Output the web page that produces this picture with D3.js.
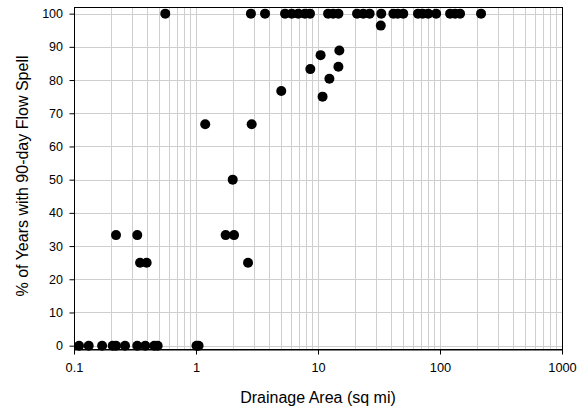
<!DOCTYPE html>
<html>
<head>
<meta charset="utf-8">
<script src="https://cdn.jsdelivr.net/npm/d3@7"></script>
<style>
  html, body { margin: 0; padding: 0; background: #fff; }
  svg { display: block; }
  text { font-family: "Liberation Sans", Arial, sans-serif; fill: #000; }
</style>
</head>
<body>
<svg id="chart" width="577" height="413"></svg>
<script>
// Drainage area (sq mi) of each gauge
const drainageArea = [
  0.110, 0.132, 0.170, 0.2075, 0.221, 0.262, 0.330, 0.384, 0.455, 0.485, 1.01, 1.05,
  0.221, 0.330, 1.75, 2.05,
  0.348, 0.394, 2.67,
  2.0,
  1.19, 2.86,
  5.0, 8.65, 10.5, 10.9, 12.4, 14.96, 14.7, 32.7,
  0.56, 2.82, 3.68, 5.37, 6.09, 6.90, 7.82, 8.60, 12.1, 13.3, 14.7,
  20.9, 23.5, 26.5, 33, 41.5, 45, 50, 66, 72, 80, 93, 121, 133, 146, 217
];
// Percent of years with a 90-day flow spell at the same gauge
const pctYears = [
  0, 0, 0, 0, 0, 0, 0, 0, 0, 0, 0, 0,
  33.3, 33.3, 33.3, 33.3,
  25, 25, 25,
  50,
  66.7, 66.7,
  76.7, 83.3, 87.5, 75, 80.4, 88.9, 84.0, 96.4,
  100, 100, 100, 100, 100, 100, 100, 100, 100, 100, 100,
  100, 100, 100, 100, 100, 100, 100, 100, 100, 100, 100, 100, 100, 100, 100
];
const xTickValues = [0.1, 1, 10, 100, 1000];
const xTickLabels = ["0.1", "1", "10", "100", "1000"];
const yTickValues = [0, 10, 20, 30, 40, 50, 60, 70, 80, 90, 100];

const svg = d3.select("#chart");
const plotL = 74, plotR = 562, plotT = 7, plotB = 349;

const x = d3.scaleLog().domain([0.1, 1000]).range([plotL, plotR]);
const y = d3.scaleLinear().domain([-1, 102]).range([plotB, plotT]);

// Minor log gridlines (1..9 in each decade)
const minor = [];
for (let e = -1; e < 3; e++) {
  for (let m = 1; m <= 9; m++) minor.push(m * Math.pow(10, e));
}
minor.push(1000);

const grid = svg.append("g");
grid.selectAll("line.v").data(minor).join("line")
  .attr("x1", d => Math.round(x(d)) + 0.5).attr("x2", d => Math.round(x(d)) + 0.5)
  .attr("y1", plotT).attr("y2", plotB)
  .attr("stroke", "#cfcfcf").attr("stroke-width", 1);
grid.selectAll("line.h").data(yTickValues).join("line")
  .attr("x1", plotL).attr("x2", plotR)
  .attr("y1", d => Math.round(y(d)) + 0.5).attr("y2", d => Math.round(y(d)) + 0.5)
  .attr("stroke", "#cfcfcf").attr("stroke-width", 1);

// Plot frame
svg.append("rect")
  .attr("x", plotL + 0.5).attr("y", plotT + 0.5)
  .attr("width", plotR - plotL).attr("height", plotB - plotT)
  .attr("fill", "none").attr("stroke", "#000").attr("stroke-width", 1);

// Axes
const xAxis = d3.axisBottom(x).tickValues(xTickValues)
  .tickFormat((d, i) => xTickLabels[i]).tickSize(5).tickSizeOuter(0);
const gx = svg.append("g").attr("transform", `translate(0,${plotB + 0.5})`).call(xAxis);
gx.select(".domain").attr("stroke", "#000");
gx.selectAll(".tick line").attr("stroke", "#000");
gx.selectAll(".tick text").attr("font-size", 12.8).attr("y", 13).attr("dy", "0.71em")
  .style("font-family", "'Liberation Sans', Arial, sans-serif").attr("fill", "#000");

const yAxis = d3.axisLeft(y).tickValues(yTickValues).tickSize(5).tickSizeOuter(0);
const gy = svg.append("g").attr("transform", `translate(${plotL + 0.5},0)`).call(yAxis);
gy.select(".domain").remove();
gy.selectAll(".tick line").attr("stroke", "#000");
gy.selectAll(".tick text").attr("font-size", 12.5).attr("x", -11.5)
  .style("font-family", "'Liberation Sans', Arial, sans-serif").attr("fill", "#000");
svg.append("line")
  .attr("x1", plotL + 0.5).attr("x2", plotL + 0.5)
  .attr("y1", plotT).attr("y2", plotB + 0.5)
  .attr("stroke", "#000");

// Observations
const pts = drainageArea.map((a, i) => ({ a, p: pctYears[i] }));
svg.append("g").selectAll("circle").data(pts).join("circle")
  .attr("cx", d => x(d.a)).attr("cy", d => y(d.p))
  .attr("r", 5).attr("fill", "#000");

// Axis titles
svg.append("text")
  .attr("x", 318).attr("y", 402.5)
  .attr("text-anchor", "middle").attr("font-size", 16)
  .text("Drainage Area (sq mi)");
svg.append("text")
  .attr("transform", `translate(27.5,176) rotate(-90)`)
  .attr("text-anchor", "middle").attr("font-size", 16)
  .text("% of Years with 90-day Flow Spell");
</script>
</body>
</html>
